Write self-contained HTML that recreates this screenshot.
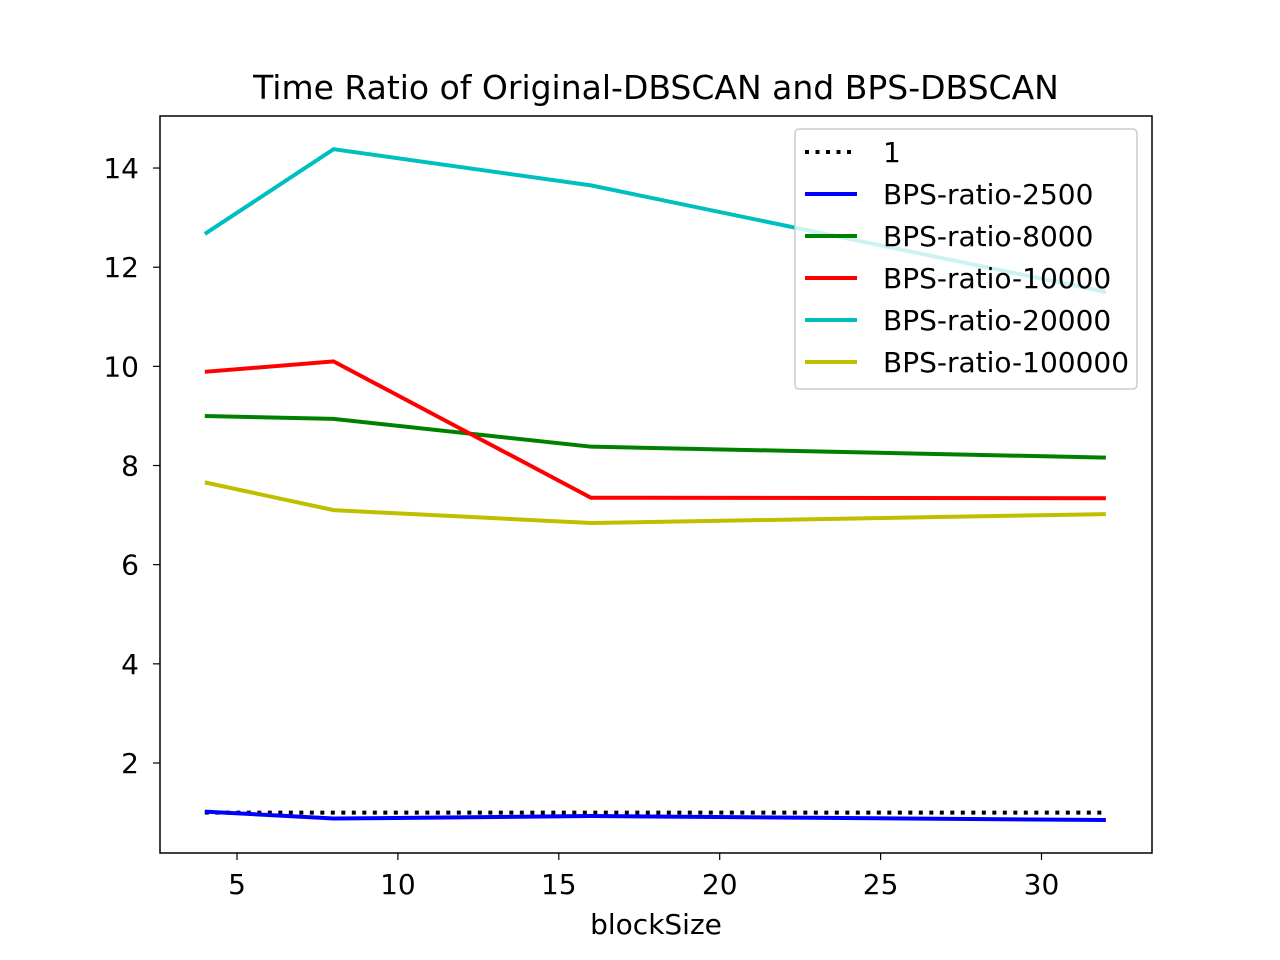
<!DOCTYPE html>
<html><head><meta charset="utf-8"><style>
body{margin:0;background:#fff;}
svg{display:block;font-family:"DejaVu Sans","Liberation Sans",sans-serif;}
</style></head><body>
<svg id="chart" width="1280" height="960">
<rect width="1280" height="960" fill="#fff"/>
<text x="656" y="99" font-size="33" text-anchor="middle">Time Ratio of Original-DBSCAN and BPS-DBSCAN</text>
<g id="plot"></g>
<rect x="160" y="116" width="992" height="737" fill="none" stroke="#000" stroke-width="1.5"/>
<text x="656" y="934" font-size="28" text-anchor="middle">blockSize</text>
<g id="legend"></g>
</svg>
<script>
const blockSizes=[4,8,16,32];
const ones=[1,1,1,1];
const ratio2500=[1.02,0.88,0.93,0.85];
const ratio8000=[9.0,8.94,8.38,8.16];
const ratio10000=[9.89,10.1,7.35,7.34];
const ratio20000=[12.67,14.38,13.65,11.5];
const ratio100000=[7.66,7.1,6.84,7.02];
const xTicks=[5,10,15,20,25,30];
const yTicks=[2,4,6,8,10,12,14];
const seriesNames=["1","BPS-ratio-2500","BPS-ratio-8000","BPS-ratio-10000","BPS-ratio-20000","BPS-ratio-100000"];
const seriesColors=["#000","#0000ff","#008000","#ff0000","#00bfbf","#bfbf00"];
const seriesData=[ones,ratio2500,ratio8000,ratio10000,ratio20000,ratio100000];
const NS="http://www.w3.org/2000/svg";
const X=v=>237+(v-5)*32.18;
const Y=v=>763-(v-2)*49.58;
const plot=document.getElementById('plot');
function mk(t,a,p){const e=document.createElementNS(NS,t);for(const k in a)e.setAttribute(k,a[k]);(p||plot).appendChild(e);return e;}
xTicks.forEach(t=>{
 const l=mk('line',{x1:X(t),x2:X(t),y1:853,y2:860,stroke:'#000','stroke-width':1.2});
 
 
 const tx=mk('text',{x:X(t),y:894,'font-size':28,'text-anchor':'middle'});tx.textContent=t;
 
 
});
yTicks.forEach(t=>{
 const l=mk('line',{x1:153,x2:160,y1:Y(t),y2:Y(t),stroke:'#000','stroke-width':1.2});
 
 
 const tx=mk('text',{x:139,y:Y(t)+10,'font-size':28,'text-anchor':'end'});tx.textContent=t;
 
 
});
seriesData.forEach((d,i)=>{
 const pts=d.map((v,j)=>X(blockSizes[j])+','+Y(v)).join(' ');
 const a={points:pts,fill:'none',stroke:seriesColors[i],'stroke-width':4};
 if(i===0)a['stroke-dasharray']='4,6.5';
 const p=mk('polyline',a);
 
 
});
const lg=document.getElementById('legend');
mk('rect',{x:795,y:129,width:342,height:260,rx:4,fill:'#fff','fill-opacity':0.8,stroke:'#ccc','stroke-width':1.5},lg);
seriesNames.forEach((n,i)=>{
 const y=152+i*42;
 const a={x1:805,x2:857,y1:y,y2:y,stroke:seriesColors[i],'stroke-width':4};
 if(i===0)a['stroke-dasharray']='4,6.5';
 const l=mk('line',a,lg);
 
 
 const t=mk('text',{x:883,y:y+10,'font-size':28},lg);t.textContent=n;
 
 
});
</script>
</body></html>
